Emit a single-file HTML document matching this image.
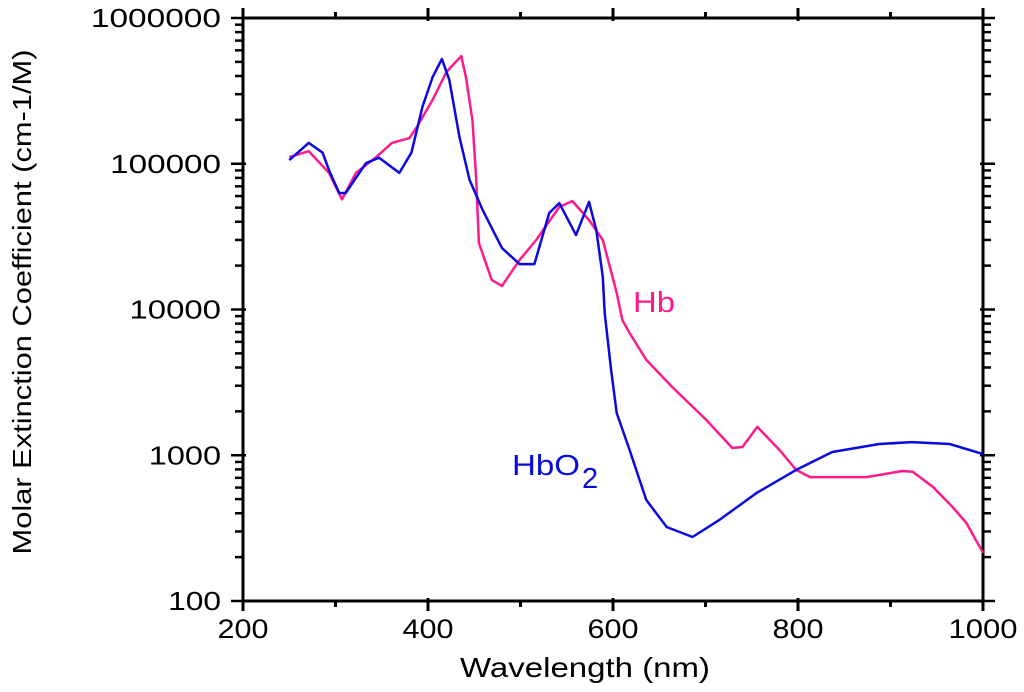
<!DOCTYPE html>
<html><head><meta charset="utf-8"><style>
html,body{margin:0;padding:0;background:#fff;}
svg{display:block;font-family:"Liberation Sans",sans-serif;}
</style></head><body>
<svg id="chart" width="1024" height="692" viewBox="0 0 1024 692">
<g id="axes"></g>
<g id="series"></g>
<text x="31" y="302" transform="rotate(-90 31 302)" text-anchor="middle" font-size="26" textLength="505" lengthAdjust="spacingAndGlyphs" fill="#000">Molar Extinction Coefficient (cm-1/M)</text>
<text x="585" y="677" text-anchor="middle" font-size="28" textLength="250" lengthAdjust="spacingAndGlyphs" fill="#000">Wavelength (nm)</text>
<text x="633" y="312" font-size="29" textLength="42" lengthAdjust="spacingAndGlyphs" fill="#ff1a8c">Hb</text>
<text x="512" y="475" font-size="29" fill="#0a0ae0"><tspan textLength="68" lengthAdjust="spacingAndGlyphs">HbO</tspan><tspan x="582" dy="13">2</tspan></text>
</svg>
<script>
const xTicks=[200,400,600,800,1000];
const yTicks=[100,1000,10000,100000,1000000];
const hbWl=[250,271,293,307,322,344,361,380,388,405,420,436,441,448,452,455,469,480,499,517,542,556,574,589,604,610,618,636,664,701,729,740,756,780,798,813,874,913,924,946,967,982,1000];
const hbVal=[111000,122000,86500,57000,86500,111000,139000,150000,179000,274000,427000,548000,393000,200000,81000,28600,15900,14500,21900,30000,50500,55500,41100,30000,13000,8470,6900,4510,2940,1745,1122,1140,1565,1087,794,708,708,780,770,606,442,343,214];
const hbo2Wl=[250,271,286,293,304,311,333,347,369,382,394,405,415,423,434,445,459,480,499,515,531,542,560,574,582,589,591,598,604,618,636,658,686,715,755,798,837,888,923,964,1000];
const hbo2Val=[106000,139000,119000,90500,63000,63000,101000,110000,86500,119000,245000,393000,523000,376000,153000,77400,48200,26400,20500,20500,45900,53700,32400,54700,35100,16700,9460,3850,1950,1087,493,322,275,360,550,794,1052,1195,1230,1195,1018];

const X0=243,X1=983,Y0=601,Y1=18;
const xs=v=>X0+(v-200)/800*(X1-X0);
const ys=v=>Y0-(Math.log10(v)-2)/4*(Y0-Y1);
const NS="http://www.w3.org/2000/svg";
const axes=document.getElementById('axes');
function mk(tag,attrs,parent){const e=document.createElementNS(NS,tag);for(const k in attrs)e.setAttribute(k,attrs[k]);parent.appendChild(e);return e;}
const frame=mk('rect',{x:X0,y:Y1,width:X1-X0,height:Y0-Y1,fill:'none',stroke:'#000','stroke-width':3},axes);


for(let v=200;v<=1000;v+=100){
  const x=xs(v),major=v%200===0,L=major?10:6;
  mk('line',{x1:x,y1:Y0-(major?3:0),x2:x,y2:Y0+L,stroke:'#000','stroke-width':3},axes);
  mk('line',{x1:x,y1:Y1+(major?3:0),x2:x,y2:Y1-L,stroke:'#000','stroke-width':3},axes);
}
xTicks.forEach(v=>{
  const t=mk('text',{x:xs(v),y:638,'text-anchor':'middle','font-size':27,fill:'#000',textLength:String(v).length*18-3,lengthAdjust:'spacingAndGlyphs'},axes);
  t.textContent=v;
  
  
});
for(let d=2;d<6;d++){
  for(let m=1;m<10;m++){
    const y=ys(m*Math.pow(10,d)),major=m===1,L=major?12:8;
    mk('line',{x1:X0+(major?3:0),y1:y,x2:X0-L,y2:y,stroke:'#000','stroke-width':2.5},axes);
    mk('line',{x1:X1-(major?3:0),y1:y,x2:X1+L,y2:y,stroke:'#000','stroke-width':2.5},axes);
  }
}
mk('line',{x1:X0,y1:Y1,x2:X0-12,y2:Y1,stroke:'#000','stroke-width':2.5},axes);
mk('line',{x1:X1,y1:Y1,x2:X1+12,y2:Y1,stroke:'#000','stroke-width':2.5},axes);
yTicks.forEach(v=>{
  const t=mk('text',{x:221,y:ys(v)+9,'text-anchor':'end','font-size':26,fill:'#000',textLength:String(v).length*19.3-5,lengthAdjust:'spacingAndGlyphs'},axes);
  t.textContent=v;
  
  
});
const ser=document.getElementById('series');
function line(wl,val,color,name){
  const d=wl.map((w,i)=>(i?'L':'M')+xs(w).toFixed(1)+','+ys(val[i]).toFixed(1)).join('');
  const p=mk('path',{d:d,fill:'none',stroke:color,'stroke-width':2.5,'stroke-linejoin':'round'},ser);
  
  
}
line(hbWl,hbVal,'#ff1a8c','hb-line');
line(hbo2Wl,hbo2Val,'#0a0ae0','hbo2-line');
</script>
</body></html>
